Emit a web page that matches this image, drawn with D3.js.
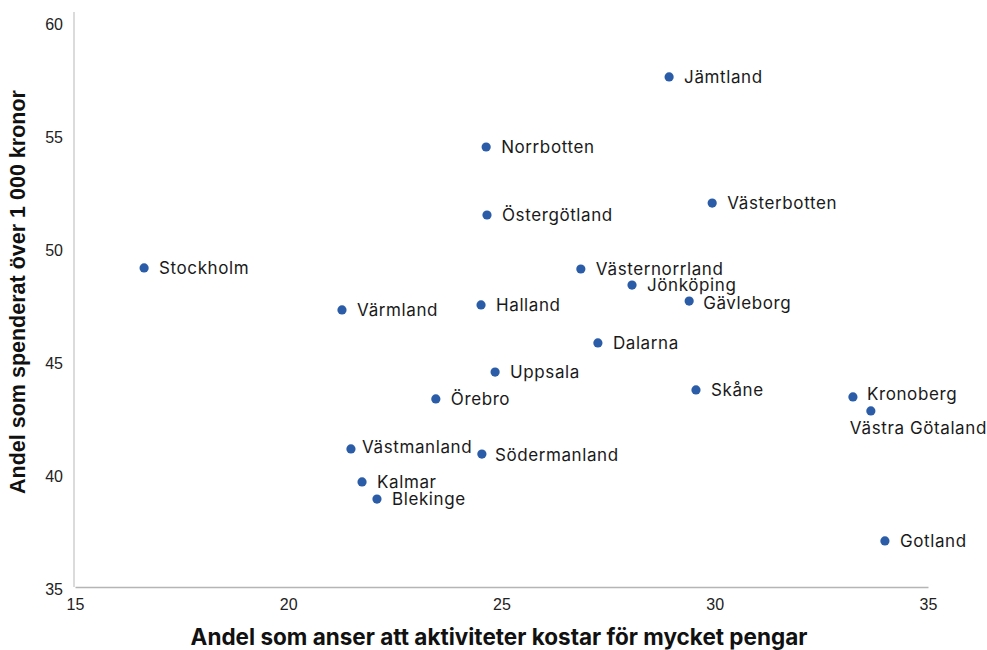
<!DOCTYPE html>
<html>
<head>
<meta charset="utf-8">
<script src="https://cdn.jsdelivr.net/npm/d3@7"></script>
<style>
  body { margin: 0; background: #fff; }
  svg { display: block; }
  .tick text { font-family: "Liberation Sans", Arial, sans-serif; font-size: 16px; fill: #222; }
  .lbl { font-family: Inter, "Noto Sans", sans-serif; font-size: 17px; letter-spacing: 0.6px; fill: #1a1a1a; }
  .title { font-weight: bold; fill: #111; }
</style>
</head>
<body>
<svg id="canvas" width="987" height="650"></svg>
<script>
// län
let regions = ['Jämtland', 'Norrbotten', 'Östergötland', 'Västerbotten', 'Stockholm',
  'Västernorrland', 'Jönköping', 'Gävleborg', 'Halland', 'Värmland', 'Dalarna',
  'Uppsala', 'Skåne', 'Kronoberg', 'Västra Götaland', 'Örebro', 'Västmanland',
  'Södermanland', 'Kalmar', 'Blekinge', 'Gotland'];

// andel som anser att aktiviteter kostar för mycket pengar
let costly = [28.93, 24.64, 24.66, 29.94, 16.62, 26.86, 28.06, 29.40, 24.52, 21.26, 27.26,
  24.85, 29.56, 33.24, 33.66, 23.46, 21.47, 24.54, 21.73, 22.08, 33.99];

// andel som spenderat över 1 000 kronor
let spent = [57.57, 54.47, 51.46, 51.99, 49.12, 49.07, 48.36, 47.65, 47.48, 47.26, 45.80,
  44.51, 43.72, 43.41, 42.79, 43.32, 41.11, 40.88, 39.65, 38.89, 37.04];

let xTicks = [15, 20, 25, 30, 35];
let yTicks = [35, 40, 45, 50, 55, 60];

let canvas = d3.select('#canvas');

let margin = { left: 75, right: 59, top: 22, bottom: 63 };
let width = 987, height = 650;

let xScale = d3.scaleLinear().domain([15, 35]).range([margin.left, width - margin.right]);
let yScale = d3.scaleLinear().domain([35, 60]).range([height - margin.bottom, margin.top]);

// axes
let xAxis = d3.axisBottom(xScale).tickValues(xTicks).tickSize(0).tickPadding(12);
let yAxis = d3.axisLeft(yScale).tickValues(yTicks).tickSize(0).tickPadding(11);

let gx = canvas.append('g')
  .attr('transform', 'translate(0,' + (height - margin.bottom) + ')')
  .call(xAxis);
gx.select('.domain').attr('stroke', '#b5b5b5').attr('stroke-width', 1.3);

let gy = canvas.append('g')
  .attr('transform', 'translate(' + (margin.left - 1) + ',0)')
  .call(yAxis);
gy.select('.domain')
  .attr('d', 'M0,' + (margin.top - 10) + 'V' + (height - margin.bottom))
  .attr('stroke', '#c8c8c8').attr('stroke-width', 1.3);
gy.selectAll('.tick text').attr('dy', '0.45em');

// axis titles
canvas.append('text')
  .attr('class', 'title')
  .attr('text-anchor', 'middle')
  .attr('font-family', 'Inter, "Noto Sans", sans-serif')
  .attr('font-size', 22.5)
  .attr('x', 499)
  .attr('y', 645)
  .text('Andel som anser att aktiviteter kostar för mycket pengar');

canvas.append('text')
  .attr('class', 'title')
  .attr('text-anchor', 'middle')
  .attr('font-family', '"Liberation Sans", Arial, sans-serif')
  .attr('font-size', 21.5)
  .attr('transform', 'translate(25,292) rotate(-90)')
  .text('Andel som spenderat över 1 000 kronor');

// label nudges (layout only)
let nudge = {
  'Västmanland': [11, -2],
  'Södermanland': [13, 1],
  'Kronoberg': [14, -3],
  'Västra Götaland': [-21, 17],
  'Gävleborg': [14, 2]
};

let points = regions.map((name, i) => ({ name: name, x: costly[i], y: spent[i] }));

canvas.selectAll('circle')
  .data(points)
  .enter()
  .append('circle')
  .attr('cx', d => xScale(d.x))
  .attr('cy', d => yScale(d.y))
  .attr('r', 4.6)
  .attr('fill', '#2a5ca8');

canvas.selectAll('text.lbl')
  .data(points)
  .enter()
  .append('text')
  .attr('class', 'lbl')
  .attr('x', d => xScale(d.x) + (nudge[d.name] ? nudge[d.name][0] : 15))
  .attr('y', d => yScale(d.y) + (nudge[d.name] ? nudge[d.name][1] : 0))
  .attr('dy', '0.36em')
  .text(d => d.name);
</script>
</body>
</html>
